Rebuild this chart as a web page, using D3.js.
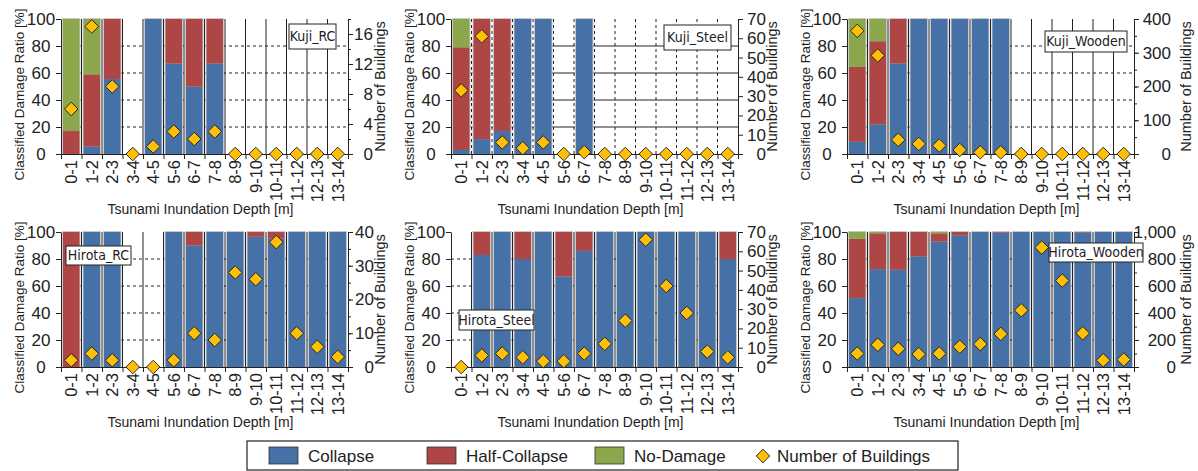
<!DOCTYPE html>
<html>
<head>
<meta charset="utf-8">
<script src="https://cdn.jsdelivr.net/npm/d3@7"></script>
<style>
  body { margin: 0; background: #fff; }
  text { font-family: "Liberation Sans", Arial, sans-serif; fill: #222; }
</style>
</head>
<body>
<svg id="chart" width="1198" height="471"></svg>
<script>
// depth classes (x axis)
var categories = ["0-1","1-2","2-3","3-4","4-5","5-6","6-7","7-8","8-9","9-10","10-11","11-12","12-13","13-14"];

// ratios in %, counts in buildings
var kujiRcCollapse  = [0, 5.5, 55.5, 0, 100, 67, 50, 67, 0, 0, 0, 0, 0, 0];
var kujiRcHalf      = [17, 53.5, 44.5, 0, 0, 33, 50, 33, 0, 0, 0, 0, 0, 0];
var kujiRcNoDamage  = [83, 41, 0, 0, 0, 0, 0, 0, 0, 0, 0, 0, 0, 0];
var kujiRcCount     = [6, 17, 9, 0, 1, 3, 2, 3, 0, 0, 0, 0, 0, 0];

var kujiSteelCollapse = [3, 11, 17, 100, 100, 0, 100, 0, 0, 0, 0, 0, 0, 0];
var kujiSteelHalf     = [76, 89, 83, 0, 0, 0, 0, 0, 0, 0, 0, 0, 0, 0];
var kujiSteelNoDamage = [21, 0, 0, 0, 0, 0, 0, 0, 0, 0, 0, 0, 0, 0];
var kujiSteelCount    = [33, 61, 6, 3, 6, 0, 1, 0, 0, 0, 0, 0, 0, 0];

var kujiWoodCollapse = [9, 22, 67, 100, 100, 100, 100, 100, 0, 0, 0, 0, 0, 0];
var kujiWoodHalf     = [55.5, 61.5, 33, 0, 0, 0, 0, 0, 0, 0, 0, 0, 0, 0];
var kujiWoodNoDamage = [35.5, 16.5, 0, 0, 0, 0, 0, 0, 0, 0, 0, 0, 0, 0];
var kujiWoodCount    = [365, 292, 42, 30, 25, 12, 5, 5, 0, 0, 0, 0, 0, 0];

var hirotaRcCollapse = [0, 100, 100, 0, 0, 100, 90, 100, 100, 96.5, 95, 100, 100, 100];
var hirotaRcHalf     = [100, 0, 0, 0, 0, 0, 10, 0, 0, 3.5, 5, 0, 0, 0];
var hirotaRcNoDamage = [0, 0, 0, 0, 0, 0, 0, 0, 0, 0, 0, 0, 0, 0];
var hirotaRcCount    = [2, 4, 2, 0, 0, 2, 10, 8, 28, 26, 37, 10, 6, 3];

var hirotaSteelCollapse = [0, 83, 100, 80, 100, 67, 86, 100, 100, 100, 100, 100, 100, 80];
var hirotaSteelHalf     = [0, 17, 0, 20, 0, 33, 14, 0, 0, 0, 0, 0, 0, 20];
var hirotaSteelNoDamage = [0, 0, 0, 0, 0, 0, 0, 0, 0, 0, 0, 0, 0, 0];
var hirotaSteelCount    = [0, 6, 7, 5, 3, 3, 7, 12, 24, 66, 42, 28, 8, 5];

var hirotaWoodCollapse = [51, 72.5, 72, 82, 93, 97.5, 100, 99.5, 100, 100, 100, 99.5, 100, 100];
var hirotaWoodHalf     = [44, 26.5, 28, 18, 6, 2.5, 0, 0.5, 0, 0, 0, 0.5, 0, 0];
var hirotaWoodNoDamage = [5, 1, 0, 0, 1, 0, 0, 0, 0, 0, 0, 0, 0, 0];
var hirotaWoodCount    = [100, 165, 135, 95, 100, 150, 170, 245, 420, 885, 640, 250, 50, 55];

// right axis ticks
var kujiRcTicks = [0, 4, 8, 12, 16];
var steelTicks = [0, 10, 20, 30, 40, 50, 60, 70];
var kujiWoodTicks = [0, 100, 200, 300, 400];
var hirotaRcTicks = [0, 10, 20, 30, 40];
var hirotaWoodTicks = [0, 200, 400, 600, 800, 1000];
var pctTicks = [0, 20, 40, 60, 80, 100];

var legendLabels = ["Collapse", "Half-Collapse", "No-Damage", "Number of Buildings"];

var colors = {collapse: "#4571a7", half: "#ad4645", none: "#8ba64b"};

var panels = [
  {name: "Kuji_RC", collapse: kujiRcCollapse, half: kujiRcHalf, none: kujiRcNoDamage, count: kujiRcCount,
   max: 18, ticks: kujiRcTicks, minor: 2, col: 0, row: 0, box: [289, 24, 47, 25], lab: 25, ttl: 32},
  {name: "Kuji_Steel", collapse: kujiSteelCollapse, half: kujiSteelHalf, none: kujiSteelNoDamage, count: kujiSteelCount,
   max: 70, ticks: steelTicks, minor: 0, col: 1, row: 0, box: [664, 25, 67, 25], lab: 28, ttl: 34, swapGrid: true},
  {name: "Kuji_Wooden", collapse: kujiWoodCollapse, half: kujiWoodHalf, none: kujiWoodNoDamage, count: kujiWoodCount,
   max: 400, ticks: kujiWoodTicks, minor: 50, col: 2, row: 0, box: [1045, 31, 82, 21], lab: 37, ttl: 52},
  {name: "Hirota_RC", collapse: hirotaRcCollapse, half: hirotaRcHalf, none: hirotaRcNoDamage, count: hirotaRcCount,
   max: 40, ticks: hirotaRcTicks, minor: 5, col: 0, row: 1, box: [66, 246, 65, 19], lab: 26, ttl: 32},
  {name: "Hirota_Steel", collapse: hirotaSteelCollapse, half: hirotaSteelHalf, none: hirotaSteelNoDamage, count: hirotaSteelCount,
   max: 70, ticks: steelTicks, minor: 0, col: 1, row: 1, box: [459, 310, 75, 20], lab: 28, ttl: 34},
  {name: "Hirota_Wooden", collapse: hirotaWoodCollapse, half: hirotaWoodHalf, none: hirotaWoodNoDamage, count: hirotaWoodCount,
   max: 1000, ticks: hirotaWoodTicks, minor: 100, col: 2, row: 1, box: [1049, 243, 94, 19], lab: 42, ttl: 52, comma: true}
];

var colX = [61, 451, 847], plotW = 287;
var rowY = [19, 232], plotH = 135;

var svg = d3.select("#chart");
svg.append("rect").attr("width", 1198).attr("height", 471).attr("fill", "#fff");

var keys = ["collapse", "half", "none"];
var diamond = d3.symbol().type(d3.symbolSquare).size(92);

panels.forEach(function(p) {
  var x0 = colX[p.col], y0 = rowY[p.row];
  var g = svg.append("g");

  var x = d3.scaleBand().domain(categories).range([x0, x0 + plotW]).padding(0);
  var xi = d3.scaleLinear().domain([0, categories.length]).range([x0, x0 + plotW]);
  var y = d3.scaleLinear().domain([0, 100]).range([y0 + plotH, y0]);
  var yc = d3.scaleLinear().domain([0, p.max]).range([y0 + plotH, y0]);

  var rows = categories.map(function(c, i) {
    return {cat: c, collapse: p.collapse[i], half: p.half[i], none: p.none[i], count: p.count[i]};
  });
  var stacked = d3.stack().keys(keys)(rows);

  // horizontal grid
  g.append("g").selectAll("line").data([20, 40, 60, 80]).enter().append("line")
    .attr("x1", x0).attr("x2", x0 + plotW)
    .attr("y1", function(d) { return y(d); }).attr("y2", function(d) { return y(d); })
    .attr("stroke", "#222").attr("stroke-width", 1)
    .attr("stroke-dasharray", p.swapGrid ? null : "3,3");

  // bar halos
  g.append("g").selectAll("rect").data(rows.filter(function(r) { return r.collapse + r.half + r.none > 0; }))
    .enter().append("rect")
    .attr("x", function(d) { return x(d.cat) + 1; })
    .attr("width", x.bandwidth() - 2)
    .attr("y", function(d) { return y(d.collapse + d.half + d.none) - 1; })
    .attr("height", function(d) { return y(0) - y(d.collapse + d.half + d.none) + 1; })
    .attr("fill", "#c9c9c9");

  // stacked bars
  g.append("g").selectAll("g").data(stacked).enter().append("g")
    .attr("fill", function(s) { return colors[s.key]; })
    .selectAll("rect").data(function(s) { return s; }).enter().append("rect")
    .attr("x", function(d) { return x(d.data.cat) + 2; })
    .attr("width", x.bandwidth() - 4)
    .attr("y", function(d) { return y(d[1]); })
    .attr("height", function(d) { return y(d[0]) - y(d[1]); });

  // vertical grid at class boundaries
  g.append("g").selectAll("line").data(d3.range(1, categories.length)).enter().append("line")
    .attr("x1", function(d) { return xi(d); }).attr("x2", function(d) { return xi(d); })
    .attr("y1", y(0)).attr("y2", y(100))
    .attr("stroke", "#222").attr("stroke-width", 1)
    .attr("stroke-dasharray", p.swapGrid ? "3,3" : null);

  // axes
  var left = g.append("g").attr("transform", "translate(" + x0 + ",0)")
    .call(d3.axisLeft(y).tickValues(pctTicks).tickSize(5).tickSizeOuter(0));
  left.selectAll("text").style("font-size", "17px").attr("text-anchor", "middle").attr("x", -20);

  if (p.minor) {
    g.append("g").attr("transform", "translate(" + (x0 + plotW) + ",0)")
      .call(d3.axisRight(yc).tickValues(d3.range(0, p.max + 0.01, p.minor)).tickSize(3).tickSizeOuter(0).tickFormat(""));
  }
  var right = g.append("g").attr("transform", "translate(" + (x0 + plotW) + ",0)")
    .call(d3.axisRight(yc).tickValues(p.ticks).tickSize(5).tickSizeOuter(0)
      .tickFormat(p.comma ? d3.format(",") : d3.format("d")));
  right.selectAll("text").style("font-size", "17px").attr("text-anchor", "end").attr("x", p.lab);

  g.append("g").attr("transform", "translate(0," + (y0 + plotH) + ")")
    .call(d3.axisBottom(xi).tickValues(d3.range(0, categories.length + 1)).tickSize(5).tickSizeOuter(0).tickFormat(""));

  var bottom = g.append("g").attr("transform", "translate(0," + (y0 + plotH) + ")")
    .call(d3.axisBottom(x).tickSize(0).tickSizeOuter(0));
  bottom.select(".domain").remove();
  bottom.selectAll("text")
    .style("font-size", "16.5px")
    .attr("text-anchor", "end")
    .attr("transform", "rotate(-90)")
    .attr("x", -6).attr("y", 0).attr("dy", "0.36em");

  g.selectAll(".domain, .tick line").attr("stroke", "#222");

  // diamonds for building counts
  g.append("g").selectAll("path").data(rows).enter().append("path")
    .attr("d", diamond)
    .attr("transform", function(d) { return "translate(" + (x(d.cat) + x.bandwidth() / 2) + "," + yc(d.count) + ") rotate(45)"; })
    .attr("fill", "#fec006").attr("stroke", "#222").attr("stroke-width", 0.9);

  // titles
  g.append("text").attr("x", x0 + plotW / 2 - 4).attr("y", y0 + plotH + 60)
    .attr("text-anchor", "middle").style("font-size", "14px")
    .text("Tsunami Inundation Depth [m]");
  g.append("text").attr("transform", "translate(" + (x0 - 42) + "," + (y0 + plotH / 2 + 8) + ") rotate(-90)")
    .attr("text-anchor", "middle").attr("dy", "0.35em").style("font-size", "13.5px")
    .text("Classified Damage Ratio [%]");
  g.append("text").attr("transform", "translate(" + (x0 + plotW + p.ttl) + "," + (y0 + plotH / 2) + ") rotate(-90)")
    .attr("text-anchor", "middle").attr("dy", "0.35em").style("font-size", "14.5px")
    .text("Number of Buildings");

  // name box
  g.append("rect").attr("x", p.box[0]).attr("y", p.box[1]).attr("width", p.box[2]).attr("height", p.box[3])
    .attr("fill", "#fff").attr("stroke", "#222").attr("stroke-width", 1);
  g.append("text").attr("x", p.box[0] + p.box[2] / 2).attr("y", p.box[1] + p.box[3] / 2)
    .attr("dy", "0.35em").attr("text-anchor", "middle")
    .style("font-family", "'Liberation Sans Narrow', 'DejaVu Sans Condensed', sans-serif")
    .style("font-size", "14px")
    .text(p.name);
});

// legend
var legend = svg.append("g");
legend.append("rect").attr("x", 247).attr("y", 441).attr("width", 711).attr("height", 29)
  .attr("fill", "#fff").attr("stroke", "#222").attr("stroke-width", 1.2);
var swatchX = [269, 427, 595];
[colors.collapse, colors.half, colors.none].forEach(function(c, i) {
  legend.append("rect").attr("x", swatchX[i]).attr("y", 447).attr("width", 29).attr("height", 17)
    .attr("fill", c).attr("stroke", "#333").attr("stroke-width", 0.8);
  legend.append("text").attr("x", swatchX[i] + 39).attr("y", 456).attr("dy", "0.35em")
    .style("font-size", "17px").text(legendLabels[i]);
});
legend.append("path").attr("d", diamond)
  .attr("transform", "translate(763,456) rotate(45)")
  .attr("fill", "#fec006").attr("stroke", "#222").attr("stroke-width", 0.9);
legend.append("text").attr("x", 777).attr("y", 456).attr("dy", "0.35em")
  .style("font-size", "17px").text(legendLabels[3]);
</script>
</body>
</html>
